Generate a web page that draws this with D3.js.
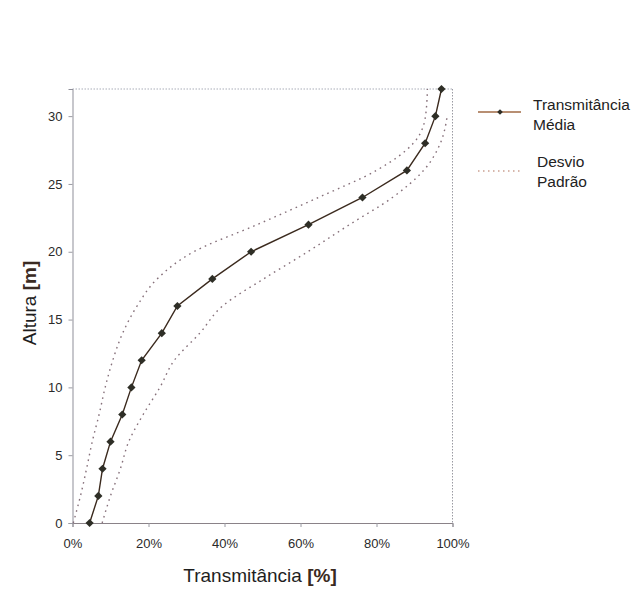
<!DOCTYPE html>
<html>
<head>
<meta charset="utf-8">
<script src="https://cdn.jsdelivr.net/npm/d3@7"></script>
<style>
  body { margin: 0; background: #fff; }
  text { font-family: "Liberation Sans", Arial, sans-serif; }
</style>
</head>
<body>
<div id="chart-area"></div>
<script>
// altura (m) e transmitância (%)
var heights = [0, 2, 4, 6, 8, 10, 12, 14, 16, 18, 20, 22, 24, 26, 28, 30, 32];
var meanT   = [4.5, 6.8, 7.9, 10.0, 13.1, 15.5, 18.2, 23.5, 27.6, 36.8, 47.0, 62.1, 76.3, 88.0, 92.8, 95.5, 97.1];
var sdLow   = [0.2, 2.1, 3.7, 5.2, 7.0, 8.6, 10.6, 13.2, 17.0, 22.3, 31.9, 48.6, 64.7, 80.0, 89.7, 92.9, 93.4];
var sdHigh  = [7.8, 10.0, 12.6, 14.8, 18.6, 23.0, 26.8, 33.5, 39.5, 50.3, 61.9, 72.9, 84.2, 92.4, 96.8, 98.6, null];

var yTicks = [0, 5, 10, 15, 20, 25, 30];
var xTicks = [0, 20, 40, 60, 80, 100];

var margin = { left: 72.5, right: 187.5, top: 89, bottom: 80 };
var width = 380;
var height = 434;

var svg = d3.select("#chart-area").append("svg")
    .attr("width", 640)
    .attr("height", 603);

var g = svg.append("g")
    .attr("transform", "translate(" + margin.left + ", " + margin.top + ")");

var x = d3.scaleLinear().domain([0, 100]).range([0, width]);
var y = d3.scaleLinear().domain([0, 32]).range([height, 0]);

// moldura pontilhada (topo e direita)
g.append("line")
    .attr("x1", 0).attr("x2", width).attr("y1", 0).attr("y2", 0)
    .attr("stroke", "#a9adb8").attr("stroke-dasharray", "1.5,1.5");
g.append("line")
    .attr("x1", width).attr("x2", width).attr("y1", 0).attr("y2", height)
    .attr("stroke", "#9a9aa2").attr("stroke-dasharray", "1.5,1.5");

var leftAxis = d3.axisLeft(y).tickValues(yTicks).tickSize(4).tickPadding(6);
var ga = g.append("g").attr("class", "left axis").call(leftAxis);
ga.select(".domain").attr("stroke", "#8f8f99");
ga.selectAll(".tick line").attr("stroke", "#9a9aa2");
ga.selectAll("text").attr("font-size", "13px").attr("fill", "#2a2a2a");

var bottomAxis = d3.axisBottom(x).tickValues(xTicks).tickSize(4).tickPadding(12)
    .tickFormat((d) => { return d + "%"; });
var gb = g.append("g").attr("class", "bottom axis")
    .attr("transform", "translate(0, " + height + ")")
    .call(bottomAxis);
gb.select(".domain").attr("stroke", "#8a8288");
gb.selectAll(".tick line").attr("stroke", "#9a9aa2");
gb.selectAll("text").attr("font-size", "13px").attr("fill", "#2a2a2a");

// desvio padrão
var sdLine = d3.line()
    .defined((d) => { return d.v != null; })
    .x((d) => { return x(d.v); })
    .y((d) => { return y(d.h); })
    .curve(d3.curveMonotoneY);

[sdLow, sdHigh].forEach((arr) => {
    var pts = heights.map((h, i) => { return { h: h, v: arr[i] }; });
    g.append("path")
        .datum(pts)
        .attr("d", sdLine)
        .attr("fill", "none")
        .attr("stroke", "#86707a")
        .attr("stroke-width", 1.4)
        .attr("stroke-dasharray", "1.6,4.2");
});

// média
var meanPts = heights.map((h, i) => { return { h: h, v: meanT[i] }; });
var meanLine = d3.line()
    .x((d) => { return x(d.v); })
    .y((d) => { return y(d.h); });

g.append("path")
    .datum(meanPts)
    .attr("d", meanLine)
    .attr("fill", "none")
    .attr("stroke", "#3b2a1e")
    .attr("stroke-width", 1.4);

var diamond = d3.symbol().type(d3.symbolSquare).size(34);
g.selectAll("path.marker")
    .data(meanPts)
    .enter()
    .append("path")
    .attr("class", "marker")
    .attr("d", diamond)
    .attr("transform", (d) => { return "translate(" + x(d.v) + "," + y(d.h) + ") rotate(45)"; })
    .attr("fill", "#2e2e26");

// títulos
var xt = svg.append("text")
    .attr("x", 260)
    .attr("y", 582)
    .attr("font-size", "19px")
    .attr("text-anchor", "middle")
    .style("fill", "#1e1e1e")
    .text("Transmitância ");
xt.append("tspan").attr("font-weight", "bold").style("fill", "#3a2a22").text("[%]");

var yt = svg.append("text")
    .attr("transform", "translate(36, 303) rotate(-90)")
    .attr("font-size", "19px")
    .attr("text-anchor", "middle")
    .style("fill", "#1e1e1e")
    .text("Altura ");
yt.append("tspan").attr("font-weight", "bold").style("fill", "#3a2a22").text("[m]");

// legenda
var leg = svg.append("g");
leg.append("line")
    .attr("x1", 478).attr("x2", 521).attr("y1", 112).attr("y2", 112)
    .attr("stroke", "#a06a44").attr("stroke-width", 1.6);
leg.append("path")
    .attr("d", d3.symbol().type(d3.symbolSquare).size(16))
    .attr("transform", "translate(500,112) rotate(45)")
    .attr("fill", "#2e2e26");
leg.append("text").attr("x", 533).attr("y", 110).attr("font-size", "15.5px")
    .style("fill", "#222").text("Transmitância");
leg.append("text").attr("x", 533).attr("y", 130).attr("font-size", "15.5px")
    .style("fill", "#222").text("Média");

leg.append("line")
    .attr("x1", 478).attr("x2", 521).attr("y1", 171).attr("y2", 171)
    .attr("stroke", "#b0705a").attr("stroke-width", 1.2)
    .attr("stroke-dasharray", "1.5,3.5");
leg.append("text").attr("x", 537).attr("y", 167).attr("font-size", "15.5px")
    .style("fill", "#222").text("Desvio");
leg.append("text").attr("x", 537).attr("y", 187).attr("font-size", "15.5px")
    .style("fill", "#222").text("Padrão");
</script>
</body>
</html>
